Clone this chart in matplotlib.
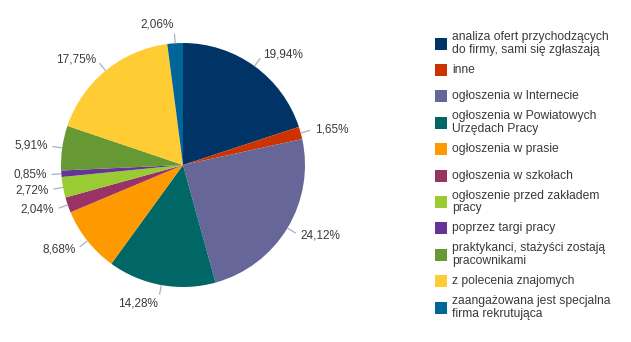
import numpy as np
import matplotlib
matplotlib.use("Agg")
import matplotlib.pyplot as plt
from matplotlib.patches import Rectangle

plt.rcParams['font.family'] = ['Liberation Sans', 'DejaVu Sans']

categories = [
    "analiza ofert przychodzących\ndo firmy, sami się zgłaszają",
    "inne",
    "ogłoszenia w Internecie",
    "ogłoszenia w Powiatowych\nUrzędach Pracy",
    "ogłoszenia w prasie",
    "ogłoszenia w szkołach",
    "ogłoszenie przed zakładem\npracy",
    "poprzez targi pracy",
    "praktykanci, stażyści zostają\npracownikami",
    "z polecenia znajomych",
    "zaangażowana jest specjalna\nfirma rekrutująca",
]
shares = [19.94, 1.65, 24.12, 14.28, 8.68, 2.04, 2.72, 0.85, 5.91, 17.75, 2.06]
colors = ["#003366", "#cc3300", "#666699", "#006666", "#ff9900", "#993366",
          "#99cc33", "#663399", "#669933", "#ffcc33", "#006699"]

W, H = 631, 342
fig = plt.figure(figsize=(W / 100, H / 100), dpi=100)

# pie area: centre (183, 165) px, radius 122 px
cx, cy, R = 183, 165, 122
ax = fig.add_axes([(cx - R) / W, (H - cy - R) / H, 2 * R / W, 2 * R / H])
wedges, _ = ax.pie(shares, colors=colors, startangle=90, counterclock=False,
                   radius=1.0, wedgeprops=dict(linewidth=0))
ax.set_xlim(-1, 1)
ax.set_ylim(-1, 1)
ax.set_aspect('equal', adjustable='box')
ax.axis('off')

text_col = "#3a3a3a"
conn_col = "#a9b0c8"
for w, v in zip(wedges, shares):
    ang = np.deg2rad((w.theta1 + w.theta2) / 2)
    ca, sa = np.cos(ang), np.sin(ang)
    ax.plot([ca * 1.0, ca * 1.08], [sa * 1.0, sa * 1.08], color=conn_col,
            lw=0.9, clip_on=False, solid_capstyle='butt')
    r = 1.12
    ha = 'left' if ca > 0 else 'right'
    if abs(ca) < 0.35:
        r = 1.15
    ax.text(r * ca, r * sa, f"{v:.2f}%".replace('.', ','), ha=ha, va='center',
            fontsize=8.5, color=text_col, clip_on=False)

# legend drawn as a fixed grid of rows
sq_x, sq_size, txt_x = 435, 12, 452
row0, step = 43.5, 26.4
for i, (lab, col) in enumerate(zip(categories, colors)):
    yc = row0 + step * i
    fig.patches.append(Rectangle((sq_x / W, (H - yc - sq_size / 2) / H),
                                 sq_size / W, sq_size / H,
                                 transform=fig.transFigure, facecolor=col,
                                 edgecolor='none'))
    fig.text(txt_x / W, (H - yc) / H, lab, ha='left', va='center',
             fontsize=8.7, color=text_col, linespacing=1.05)

fig.savefig("out.png", dpi=100, facecolor='white')
